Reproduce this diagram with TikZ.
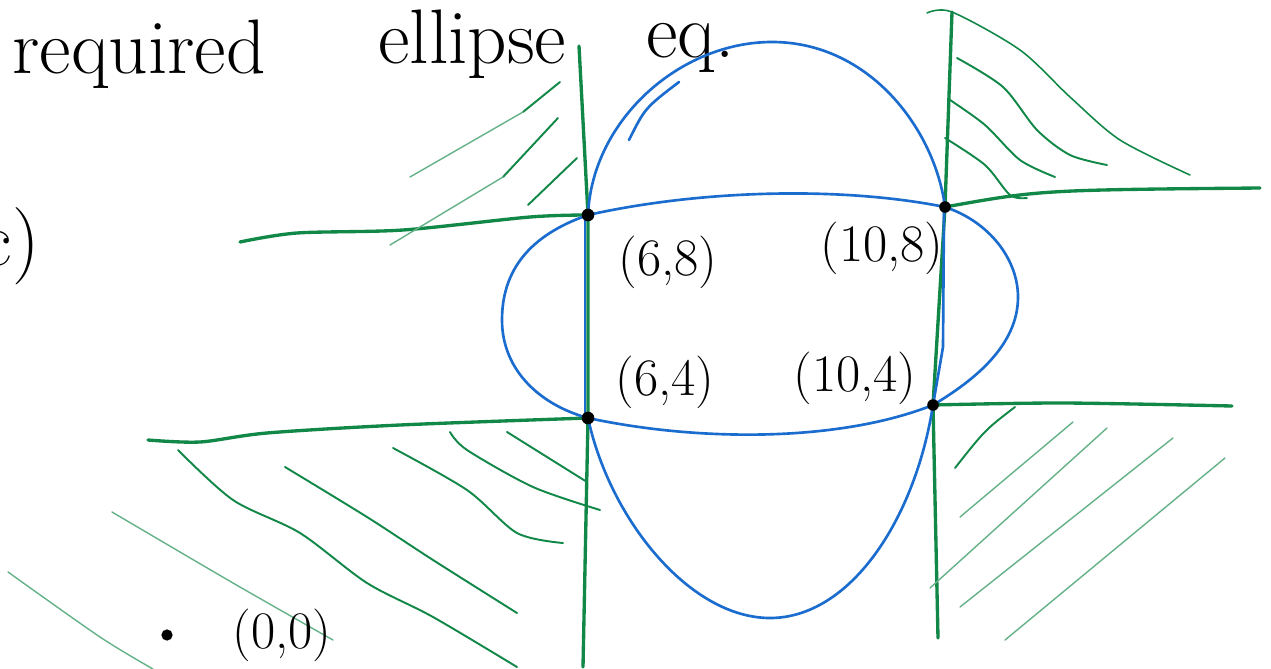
\documentclass[tikz,border=0pt]{standalone}
\usetikzlibrary{positioning}
\definecolor{penGreen}{RGB}{18,136,72}
\definecolor{penBlue}{RGB}{26,108,206}
\tikzset{
  bound/.style={penGreen, line width=1.9pt, line cap=round},
  hatch/.style={penGreen, line width=1.1pt, line cap=round},
  faint/.style={penGreen!65, line width=0.8pt, line cap=round},
  curve/.style={penBlue, line width=1.5pt, line cap=round},
  word/.style={font=\fontsize{44}{50}\selectfont, inner sep=0pt},
  lbl/.style={font=\fontsize{30}{34}\selectfont, inner sep=0pt},
}
\begin{document}
\begin{tikzpicture}[x=0.02cm, y=-0.02cm]
  \clip (0,0) rectangle (1271,669);
  \fill[white] (0,0) rectangle (1271,669);

  % 1. 交点
  \coordinate (A) at (588,215); % (6,8)
  \coordinate (B) at (945,207); % (10,8)
  \coordinate (C) at (588,418); % (6,4)
  \coordinate (D) at (933,405); % (10,4)

  % 2. 見出し
  \node[word, anchor=base west] (wRequired) at (12,74) {required};
  \node[word, anchor=base west] (wEllipse) at (378,64) {ellipse};
  \node[word, anchor=base west] (wEq) at (646,58) {eq.};
  \node[word, anchor=base east] (partC) at (40,265) {c)};

  % 3. 緑の境界線 x=6, x=10, y=8, y=4
  \draw[bound] (579,46) -- (A) -- (C) -- (583,667);
  \draw[bound] (952,12) -- (B) -- (D) -- (938,638);
  \draw[bound] plot[smooth] coordinates {(240,242) (297,233) (403,230) (530,217) (A)};
  \draw[bound] (B) .. controls (1040,190) .. (1260,188);
  \draw[bound] plot[smooth] coordinates {(148,440) (200,442) (267,433) (400,425) (C)};
  \draw[bound] plot[smooth] coordinates {(D) (1063,403) (1232,406)};

  % 4. 斜線 (左上)
  \draw[hatch] (560,82) -- (523,112);
  \draw[faint] (523,112) -- (410,177);
  \draw[hatch] (558,118) -- (503,177);
  \draw[faint] (503,177) -- (390,245);
  \draw[hatch] (577,158) -- (528,205);

  % 斜線 (右上)
  \draw[hatch, line width=0.9pt] plot[smooth] coordinates {(927,13) (952,12) (1020,50) (1070,97) (1120,140) (1190,175)};
  \draw[hatch] plot[smooth] coordinates {(957,58) (1003,87) (1037,130) (1070,155) (1107,165)};
  \draw[hatch] plot[smooth] coordinates {(950,100) (985,125) (1020,160) (1055,177)};
  \draw[hatch] plot[smooth] coordinates {(945,138) (985,165) (1010,195) (1027,198)};

  % 斜線 (左下)
  \draw[hatch] plot[smooth] coordinates {(178,450) (233,500) (300,533) (367,583) (433,617) (517,667)};
  \draw[hatch] plot[smooth] coordinates {(285,467) (367,517) (433,560) (517,613)};
  \draw[hatch] plot[smooth] coordinates {(393,448) (467,490) (517,533) (563,543)};
  \draw[hatch] plot[smooth] coordinates {(450,432) (467,450) (533,487) (600,510)};
  \draw[hatch] (507,432) -- (587,482);
  \draw[faint] plot[smooth] coordinates {(112,512) (233,583) (333,640)};
  \draw[faint] plot[smooth] coordinates {(8,572) (100,637) (153,669)};

  % 斜線 (右下)
  \draw[hatch] (1015,407) .. controls (985,430) .. (955,468);
  \draw[faint] (1073,422) -- (960,517);
  \draw[faint] (1107,428) -- (930,588);
  \draw[faint] (1173,438) -- (960,607);
  \draw[faint] (1225,458) -- (1005,640);

  % 5. 青い楕円 (縦長)
  \draw[curve] (A) .. controls (592,120) and (680,42) .. (772,42)
               .. controls (870,42) and (935,130) .. (B);
  \draw[curve] (629,140) .. controls (645,108) .. (679,82);
  \draw[curve] (585,215) -- (585,418);
  \draw[curve] (944,207) -- (943,347) -- (D);
  \draw[curve] (C) .. controls (610,520) and (690,618) .. (770,618)
               .. controls (850,618) and (915,520) .. (D);

  % 青い楕円 (横長)
  \draw[curve] (A) .. controls (530,235) and (502,270) .. (502,320)
               .. controls (502,370) and (540,405) .. (C);
  \draw[curve] (A) .. controls (700,190) and (840,186) .. (B);
  \draw[curve] (C) .. controls (700,442) and (840,442) .. (D);
  \draw[curve] (B) .. controls (990,222) and (1018,260) .. (1018,297)
               .. controls (1018,345) and (975,380) .. (D);

  % 6. 点とラベル
  \fill (A) circle (3.6pt);
  \fill (B) circle (3.3pt);
  \fill (C) circle (3.6pt);
  \fill (D) circle (3.3pt);
  \node[lbl] (lblA) at (668,262) {(6,8)};
  \node[lbl] (lblB) at (882,248) {(10,8)};
  \node[lbl] (lblC) at (665,382) {(6,4)};
  \node[lbl] (lblD) at (855,378) {(10,4)};

  \coordinate (O) at (167,635);
  \fill (O) circle (3.2pt);
  \node[lbl] (lblO) at (282,635) {(0,0)};

\end{tikzpicture}
\end{document}
